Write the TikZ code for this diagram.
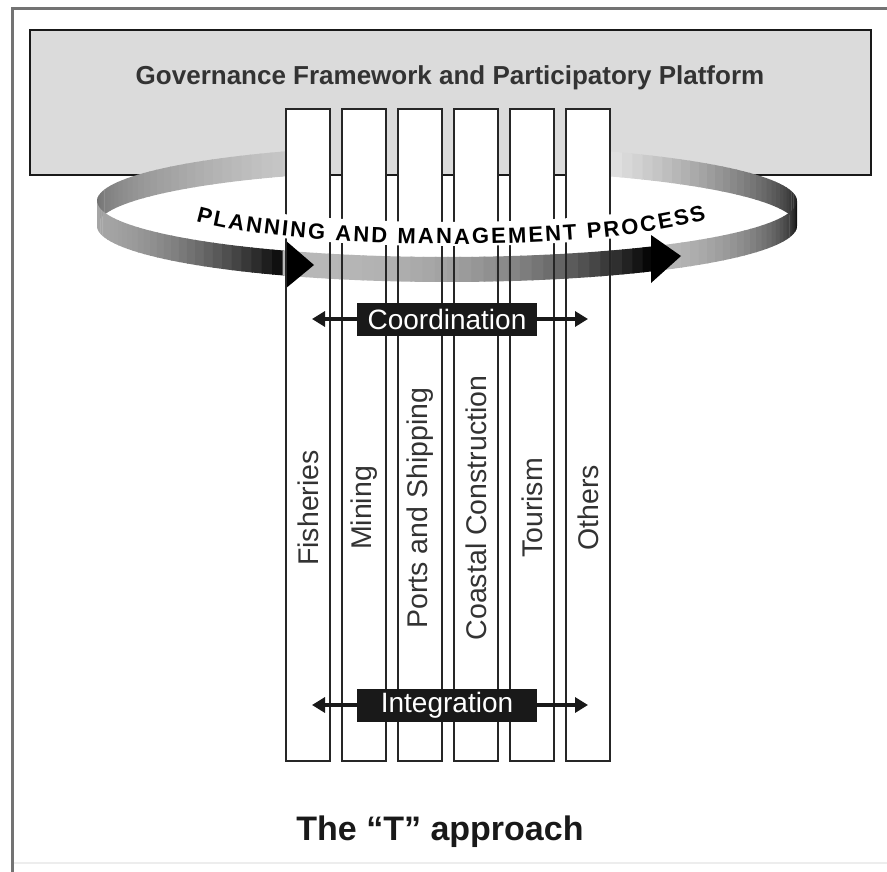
\documentclass[tikz,border=0pt]{standalone}
\usepackage{fontspec}
\setmainfont{Liberation Sans}
\usetikzlibrary{positioning,arrows.meta,decorations.text}

% one slice of the ribbon: #1 angle, #2 shade
\newcommand{\ringpiece}[2]{%
  \fill[black!#2] ({447+350*cos(#1)},{201-56*sin(#1)}) -- ({447+350*cos(#1+2.3)},{201-56*sin(#1+2.3)})
    -- ({447+350*cos(#1+2.3)},{226-56*sin(#1+2.3)}) -- ({447+350*cos(#1)},{226-56*sin(#1)}) -- cycle;}

\begin{document}
\begin{tikzpicture}[x=1pt,y=-1pt,
    sector/.style={draw=black!85, line width=2.2pt, fill=white, minimum width=44pt,
      minimum height=652pt, inner sep=0pt, outer sep=0pt},
    sectorlabel/.style={rotate=90, text=black!80, font=\fontsize{28.5}{30}\selectfont},
    tagbox/.style={fill=black!90, text=white, minimum width=180pt, minimum height=33pt,
      inner sep=0pt, font=\fontsize{28}{30}\selectfont},
    twoway/.style={line width=4pt, black!90, -{Triangle[length=13pt,width=15pt]}},
  ]
  \useasboundingbox (0,0) rectangle (887,872);

  \draw[line width=3pt, black!55] (887,9) -- (12,9) -- (12,872);
  \draw[line width=1.5pt, black!7] (14,863) -- (887,863);

  \node[draw=black!90, line width=2.2pt, fill=black!14, minimum width=841pt,
    minimum height=145pt, inner sep=0pt] (gov) at (450.5,102.5) {};
  \node[text=black!80, font=\bfseries\fontsize{26}{28}\selectfont] (govlabel) at (450,78)
    {Governance Framework and Participatory Platform};

  % back of the ring
  \foreach \t in {0,2,...,62} {
    \pgfmathsetmacro\p{10+80*(1-\t/62)}
    \ringpiece{\t}{\p}
  }
  \foreach \t in {110,112,...,178} {
    \pgfmathsetmacro\p{18+40*(\t-110)/70}
    \ringpiece{\t}{\p}
  }

  \node[sector] (fisheries) at (308,435) {};
  \node[sector, right=12pt of fisheries] (mining) {};
  \node[sector, right=12pt of mining] (ports) {};
  \node[sector, right=12pt of ports] (coastal) {};
  \node[sector, right=12pt of coastal] (tourism) {};
  \node[sector, right=12pt of tourism] (others) {};

  \node[sectorlabel] (fisherieslab) at ([yshift=-73pt]fisheries.center) {Fisheries};
  \node[sectorlabel] (mininglab) at ([yshift=-73pt]mining.center) {Mining};
  \node[sectorlabel] (portslab) at ([yshift=-73pt]ports.center) {Ports and Shipping};
  \node[sectorlabel] (coastallab) at ([yshift=-73pt]coastal.center) {Coastal Construction};
  \node[sectorlabel] (tourismlab) at ([yshift=-73pt]tourism.center) {Tourism};
  \node[sectorlabel] (otherslab) at ([yshift=-73pt]others.center) {Others};

  % front of the ring
  \foreach \t in {180,182,...,240} {
    \pgfmathsetmacro\p{35+65*((\t-180)/62)^3}
    \ringpiece{\t}{\p}
  }
  \foreach \t in {242,244,...,304} {
    \pgfmathsetmacro\p{28+72*((\t-242)/63)^2.5}
    \ringpiece{\t}{\p}
  }
  \foreach \t in {306,308,...,358} {
    \pgfmathsetmacro\p{28+72*((\t-306)/54)^1.5}
    \ringpiece{\t}{\p}
  }
  \fill[black] (285,240) -- (314,265) -- (285,289) -- cycle;
  \fill[black] (651,235) -- (681,256) -- (651,283) -- cycle;

  \foreach \n in {fisheries,mining,ports,coastal,tourism,others}
    \draw[line width=2.2pt, black!85] (\n.south west) rectangle (\n.north east);

  \draw[white, line width=24pt] (196,211) .. controls (300,241) and (600,243) .. (706,209);
  \path[decorate, decoration={text along path, text align=fit to path,
      text={|\bfseries\fontsize{22}{24}\selectfont|PLANNING AND MANAGEMENT PROCESS}}]
    (196,221) .. controls (300,251) and (600,253) .. (706,219);

  \node[tagbox] (coordination) at (447,319) {Coordination};
  \coordinate (coordw) at (312,319);
  \coordinate (coorde) at (588,319);
  \draw[twoway] (coordination.west) -- (coordw);
  \draw[twoway] (coordination.east) -- (coorde);

  \node[tagbox] (integration) at (447,705) {Integration};
  \coordinate (integw) at (312,705);
  \coordinate (intege) at (588,705);
  \draw[twoway] (integration.west) -- (integw);
  \draw[twoway] (integration.east) -- (intege);

  \node[text=black!90, font=\bfseries\fontsize{34}{36}\selectfont] (title) at (440,832)
    {The “T” approach};
\end{tikzpicture}
\end{document}
